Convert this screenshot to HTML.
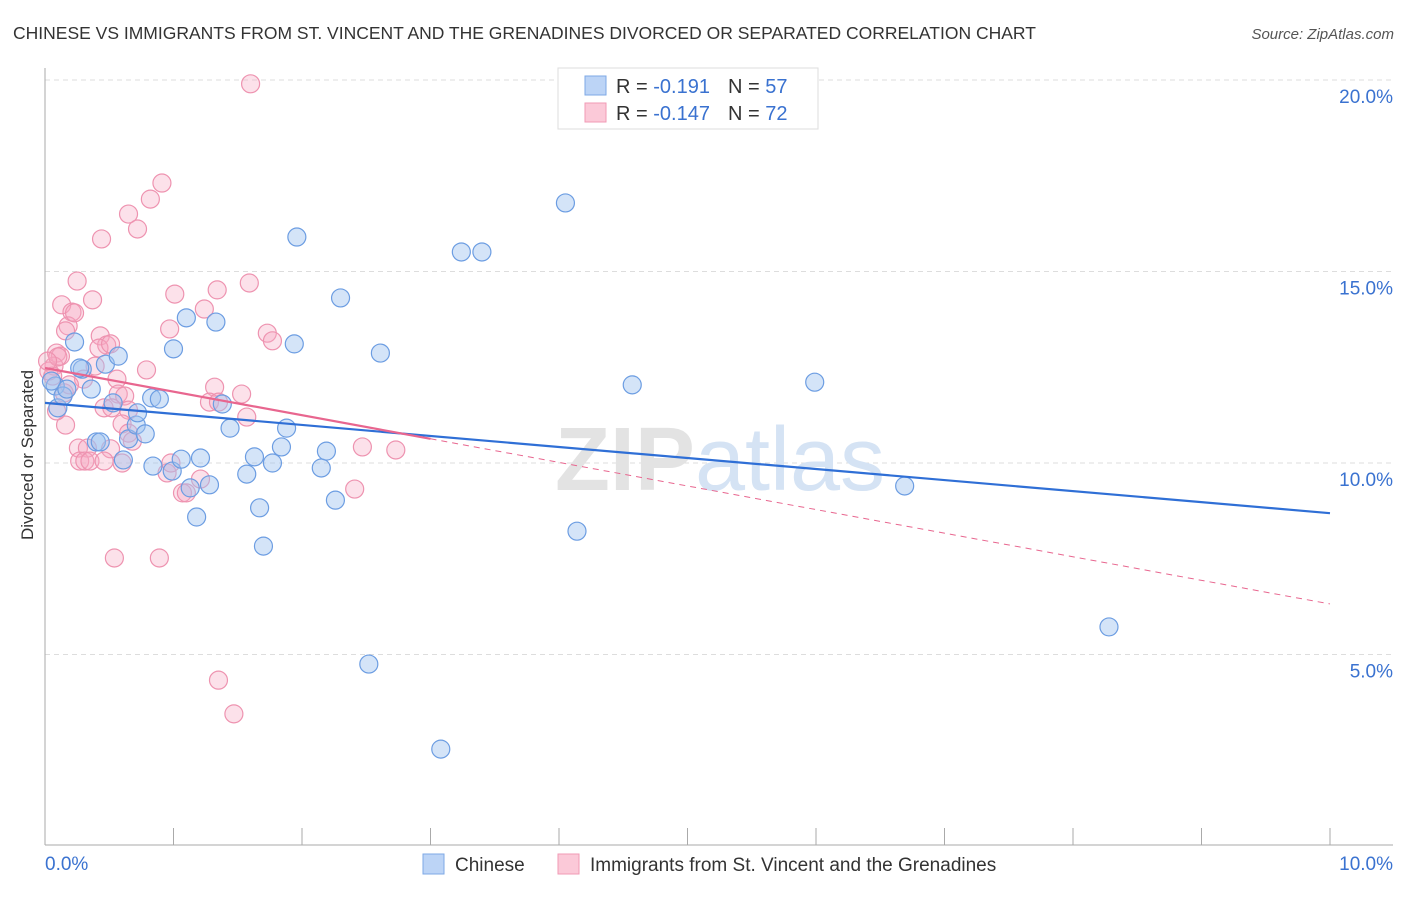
<!DOCTYPE html>
<html><head><meta charset="utf-8"><style>
body{margin:0;background:#fff;font-family:"Liberation Sans",sans-serif;}
svg text{font-family:"Liberation Sans",sans-serif;}
</style></head><body>
<svg id="chart" width="1406" height="892" xmlns="http://www.w3.org/2000/svg">
<text x="13" y="39" font-size="17.5" fill="#333">CHINESE VS IMMIGRANTS FROM ST. VINCENT AND THE GRENADINES DIVORCED OR SEPARATED CORRELATION CHART</text>
<text x="1394" y="39" font-size="15" fill="#555" text-anchor="end" font-style="italic">Source: ZipAtlas.com</text>
<g id="grid"></g>
<text x="720" y="490" font-size="90" text-anchor="middle" fill="#e3e3e3" font-family="Liberation Serif" font-weight="bold">ZIP<tspan fill="#d5e3f4" font-family="Liberation Sans" font-weight="normal">atlas</tspan></text>
<g id="marks"></g>
<text transform="translate(33,455) rotate(-90)" font-size="17" fill="#333" text-anchor="middle">Divorced or Separated</text>
<g>
<rect x="558" y="68" width="260" height="61" fill="#fff" stroke="#ddd"/>
<rect x="585" y="76" width="21" height="19" fill="#bcd4f6" stroke="#7ea8e6"/>
<rect x="585" y="103" width="21" height="19" fill="#fbc9d8" stroke="#f09ab5"/>
<text x="616" y="93" font-size="20" fill="#333">R = <tspan fill="#3a72d0"> -0.191</tspan><tspan dx="18">N = </tspan><tspan fill="#3a72d0">57</tspan></text>
<text x="616" y="120" font-size="20" fill="#333">R = <tspan fill="#3a72d0">-0.147</tspan><tspan dx="18">N = </tspan><tspan fill="#3a72d0">72</tspan></text>
</g>
<g>
<rect x="423" y="854" width="21" height="20" fill="#bcd4f6" stroke="#7ea8e6"/>
<text x="455" y="871" font-size="19" fill="#333">Chinese</text>
<rect x="558" y="854" width="21" height="20" fill="#fbc9d8" stroke="#f09ab5"/>
<text x="590" y="871" font-size="19" fill="#333">Immigrants from St. Vincent and the Grenadines</text>
</g>
</svg>
<script>
const yTicks=[5,10,15,20];
const yTickLabels=["5.0%","10.0%","15.0%","20.0%"];
const xTickLabels=["0.0%","10.0%"];
const blueX=[0.08,0.10,0.14,0.23,0.29,0.36,0.40,0.43,0.47,0.57,0.53,0.65,0.71,0.72,0.78,0.61,0.83,0.89,0.84,0.99,1.06,1.13,1.00,1.10,1.18,1.21,1.28,1.33,1.38,1.44,1.57,1.63,1.67,1.70,1.77,1.84,1.88,1.94,1.96,2.15,2.19,2.26,2.30,2.52,2.61,3.08,3.24,3.40,4.05,4.14,4.57,5.99,6.69,8.28,0.05,0.17,0.27];
const blueY=[12.01,11.44,11.75,13.16,12.45,11.93,10.55,10.55,12.58,12.79,11.57,10.63,10.99,11.31,10.76,10.08,11.70,11.67,9.92,9.79,10.10,9.35,12.98,13.79,8.59,10.13,9.43,13.68,11.54,10.91,9.71,10.16,8.83,7.83,10.0,10.42,10.91,13.11,15.90,9.87,10.31,9.03,14.31,4.75,12.87,2.53,15.51,15.51,16.79,8.22,12.04,12.11,9.40,5.72,12.14,11.93,12.48];
const pinkX=[1.60,0.91,0.82,0.65,0.72,0.44,0.25,0.37,0.13,0.21,0.18,0.16,1.01,1.24,1.34,1.59,0.97,0.43,0.48,0.42,0.51,0.09,0.12,0.07,0.03,0.06,0.10,0.30,0.56,0.57,0.79,0.62,0.46,0.52,0.65,0.16,0.60,0.65,0.26,0.33,0.27,0.31,0.35,0.51,0.60,0.95,0.98,1.21,1.07,1.10,1.32,1.28,1.35,1.53,1.57,1.73,1.77,2.47,2.41,2.73,0.54,0.89,1.35,1.47,0.39,0.15,0.19,0.09,0.68,0.02,0.23,0.46];
const pinkY=[19.90,17.31,16.89,16.50,16.11,15.85,14.75,14.26,14.13,13.94,13.58,13.45,14.41,14.02,14.52,14.70,13.50,13.32,13.08,13.00,13.11,12.87,12.79,12.53,12.40,12.27,12.77,12.19,12.19,11.80,12.43,11.75,11.44,11.44,11.38,10.99,11.02,10.78,10.39,10.39,10.05,10.05,10.05,10.37,10.00,9.74,10.00,9.58,9.22,9.22,11.98,11.59,11.59,11.80,11.20,13.39,13.19,10.42,9.32,10.34,7.52,7.52,4.33,3.45,12.53,11.83,12.04,11.36,10.57,12.66,13.92,10.05];
const blueTrend=[11.57,8.69];
const pinkTrend=[12.48,6.32];
const pinkSolidEnd=3.0;
const NS="http://www.w3.org/2000/svg";
const xS=v=>45+v*128.5;
const yS=v=>80+(20-v)*38.3;
function mk(tag,attrs,parent){const e=document.createElementNS(NS,tag);for(const k in attrs)e.setAttribute(k,attrs[k]);parent.appendChild(e);return e;}
const grid=document.getElementById('grid');
const marks=document.getElementById('marks');
yTicks.forEach((t,i)=>{
 const l=mk('line',{x1:45,x2:1393,y1:yS(t),y2:yS(t),stroke:'#ddd','stroke-dasharray':'5,4'},grid);
 
 
 const tx=mk('text',{x:1393,y:yS(t)+23,'font-size':19,fill:'#3a72d0','text-anchor':'end'},grid);
 tx.textContent=yTickLabels[i];
 
 
});
const ax=mk('line',{x1:45,x2:45,y1:68,y2:845,stroke:'#aaa'},grid);


const bx=mk('line',{x1:45,x2:1393,y1:845,y2:845,stroke:'#aaa'},grid);


for(let i=1;i<=10;i++){
 const t=mk('line',{x1:xS(i),x2:xS(i),y1:828,y2:845,stroke:'#aaa'},grid);
 
 
}
const xl0=mk('text',{x:45,y:870,'font-size':19,fill:'#3a72d0'},grid);
xl0.textContent=xTickLabels[0];


const xl1=mk('text',{x:1393,y:870,'font-size':19,fill:'#3a72d0','text-anchor':'end'},grid);
xl1.textContent=xTickLabels[1];


pinkX.forEach((x,i)=>{
 const c=mk('circle',{cx:xS(x),cy:yS(pinkY[i]),r:9,fill:'rgba(246,170,195,0.35)',stroke:'#ee93b0','stroke-width':1.2},marks);
 
 
});
blueX.forEach((x,i)=>{
 const c=mk('circle',{cx:xS(x),cy:yS(blueY[i]),r:9,fill:'rgba(160,195,240,0.45)',stroke:'#6c9de2','stroke-width':1.2},marks);
 
 
});
const pAt=x=>pinkTrend[0]+(pinkTrend[1]-pinkTrend[0])*x/10;
const bl=mk('line',{x1:xS(0),y1:yS(blueTrend[0]),x2:xS(10),y2:yS(blueTrend[1]),stroke:'#2f6fd6','stroke-width':2.2},marks);


const pl=mk('line',{x1:xS(0),y1:yS(pinkTrend[0]),x2:xS(pinkSolidEnd),y2:yS(pAt(pinkSolidEnd)),stroke:'#e8668f','stroke-width':2.2},marks);


const pd=mk('line',{x1:xS(pinkSolidEnd),y1:yS(pAt(pinkSolidEnd)),x2:xS(10),y2:yS(pinkTrend[1]),stroke:'#e8668f','stroke-width':1,'stroke-dasharray':'6,5'},marks);


</script>
</body></html>
